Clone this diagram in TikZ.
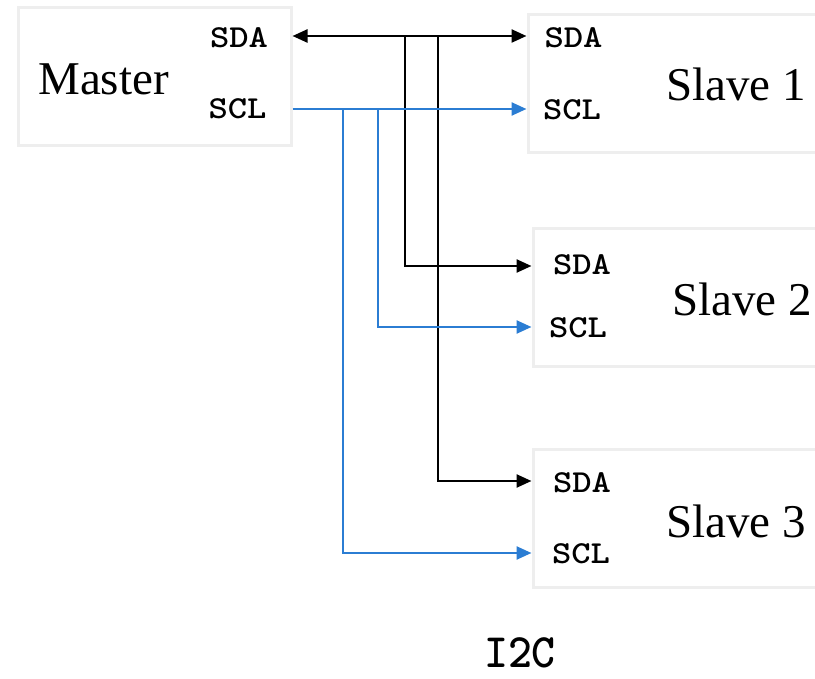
\documentclass[tikz,border=0pt]{standalone}
\usepackage{fontspec}
\setmainfont{Liberation Serif}
\usetikzlibrary{arrows.meta}
\definecolor{clk}{RGB}{43,125,211}
\definecolor{frame}{RGB}{238,238,238}
\begin{document}
\begin{tikzpicture}[x=1pt,y=-1pt,
  >={Triangle[length=15pt,width=13pt]},
  box/.style={draw=frame,line width=3pt,fill=white,inner sep=0pt,minimum height=138pt},
  pin/.style={anchor=base,inner sep=0pt,font=\fontsize{32}{32}\selectfont\ttfamily\bfseries},
  title/.style={anchor=base,inner sep=0pt,font=\fontsize{47}{47}\selectfont},
  bus/.style={line width=2.4pt},
  sda/.style={bus,black},
  scl/.style={bus,clk}]
\useasboundingbox (0,0) rectangle (815,679);
\clip (0,0) rectangle (815,679);

% devices
\node[box,minimum width=273pt] (m)  at (154.5,77) {};
\node[box,minimum width=304pt] (s1) at (680,84)  {};
\node[box,minimum width=300pt] (s2) at (683,298) {};
\node[box,minimum width=300pt] (s3) at (683,518) {};

\node[title] (mt)  at (103.5,95) {Master};
\node[title] (s1t) at (736,101) {Slave 1};
\node[title] (s2t) at (742,316) {Slave 2};
\node[title] (s3t) at (736,537) {Slave 3};

% pin labels
\node[pin] (msda)  at (239,47.5) {\scalebox{1.15}[1]{SDA}};
\node[pin] (mscl)  at (237.5,119) {\scalebox{1.15}[1]{SCL}};
\node[pin] (s1sda) at (573.5,48) {\scalebox{1.15}[1]{SDA}};
\node[pin] (s1scl) at (572,120) {\scalebox{1.15}[1]{SCL}};
\node[pin] (s2sda) at (582,275) {\scalebox{1.15}[1]{SDA}};
\node[pin] (s2scl) at (578,338) {\scalebox{1.15}[1]{SCL}};
\node[pin] (s3sda) at (582,492) {\scalebox{1.15}[1]{SDA}};
\node[pin] (s3scl) at (581,563) {\scalebox{1.15}[1]{SCL}};

% bus taps
\coordinate (da1) at (405,36);
\coordinate (da2) at (438,36);
\coordinate (cl1) at (378,109);
\coordinate (cl2) at (343,109);

% data line
\draw[sda,<->] (m.east |- da1) -- (s1.west |- da1);
\draw[sda,->] (da1) |- (s2.west |- 0,266);
\draw[sda,->] (da2) |- (s3.west |- 0,481);

% clock line
\draw[scl,->] (m.east |- cl1) -- (s1.west |- cl1);
\draw[scl,->] (cl1) |- (s2.west |- 0,327);
\draw[scl,->] (cl2) |- (s3.west |- 0,553);

\node[anchor=base,inner sep=0pt,font=\fontsize{48}{48}\selectfont\ttfamily\bfseries] (cap) at (520,667) {\scalebox{0.95}[1]{I2C}};
\end{tikzpicture}
\end{document}
